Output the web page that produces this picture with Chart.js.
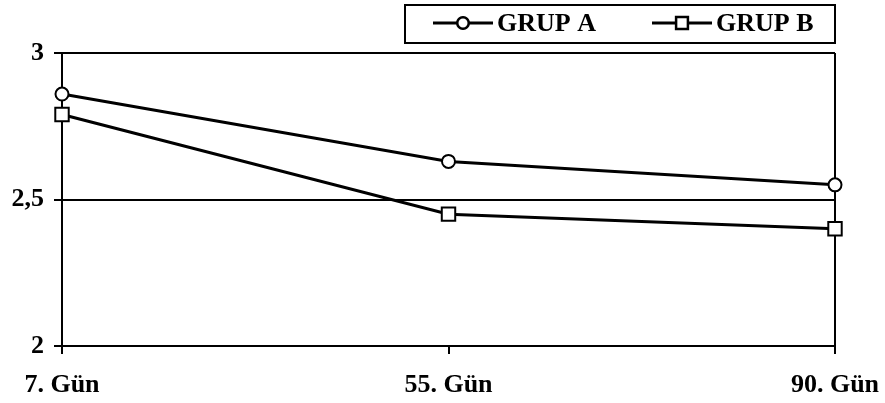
<!DOCTYPE html>
<html>
<head>
<meta charset="utf-8">
<script src="https://cdn.jsdelivr.net/npm/chart.js@4"></script>
<style>
  body { margin: 0; background: #fff; }
  #wrap { width: 885px; height: 403px; }
</style>
</head>
<body>
<div id="wrap"><canvas id="chart"></canvas></div>
<script>
const days = ['7. Gün', '55. Gün', '90. Gün'];
const grupA = [2.86, 2.63, 2.55];
const grupB = [2.79, 2.45, 2.40];
const yTicks = [2, 2.5, 3];

const FONT = '"Liberation Serif", "Times New Roman", serif';

// legend box drawn by hand (line + marker + bold label, framed)
const boxLegend = {
  id: 'boxLegend',
  afterDraw(chart) {
    const ctx = chart.ctx;
    ctx.save();
    ctx.strokeStyle = '#000';
    ctx.lineWidth = 2;
    ctx.strokeRect(405, 5, 430, 38);
    const items = [
      { x: 433, ds: chart.data.datasets[0], r: 5.5 },
      { x: 652, ds: chart.data.datasets[1], r: 8 }
    ];
    items.forEach(it => {
      const y = 23;
      ctx.lineWidth = 3;
      ctx.beginPath();
      ctx.moveTo(it.x, y);
      ctx.lineTo(it.x + 60, y);
      ctx.stroke();
      Chart.helpers.drawPoint(ctx, {
        pointStyle: it.ds.pointStyle,
        radius: it.r,
        borderWidth: 2
      }, it.x + 30, y);
      ctx.fillStyle = '#fff';
      ctx.fill();
      ctx.lineWidth = 2;
      ctx.stroke();
      ctx.fillStyle = '#000';
      ctx.font = 'bold 26px ' + FONT;
      ctx.textBaseline = 'middle';
      ctx.fillText(it.ds.label, it.x + 64, y + 1);
    });
    ctx.restore();
  }
};

new Chart(document.getElementById('chart'), {
  type: 'line',
  data: {
    labels: days,
    datasets: [
      {
        label: 'GRUP A',
        data: grupA,
        borderColor: '#000',
        borderWidth: 3,
        pointStyle: 'circle',
        pointRadius: 6.5,
        pointBorderWidth: 2,
        pointBackgroundColor: '#fff',
        pointBorderColor: '#000'
      },
      {
        label: 'GRUP B',
        data: grupB,
        borderColor: '#000',
        borderWidth: 3,
        pointStyle: 'rect',
        pointRadius: 9.5,
        pointBorderWidth: 2,
        pointBackgroundColor: '#fff',
        pointBorderColor: '#000'
      }
    ]
  },
  options: {
    responsive: true,
    maintainAspectRatio: false,
    animation: false,
    layout: { padding: { top: 53, right: 50, left: 0, bottom: 0 } },
    plugins: { legend: { display: false }, tooltip: { enabled: false } },
    scales: {
      x: {
        offset: false,
        afterFit: s => { s.height = 57; s.paddingLeft = 0; s.paddingRight = 0; },
        border: { color: '#000', width: 2 },
        grid: {
          color: c => c.index === 2 ? '#000' : 'rgba(0,0,0,0)',
          tickColor: '#000',
          lineWidth: 2,
          tickLength: 8
        },
        ticks: {
          color: '#000',
          padding: 16,
          maxRotation: 0,
          font: { family: FONT, size: 26, weight: 'bold' }
        }
      },
      y: {
        min: 2,
        max: 3,
        afterFit: s => { s.width = 62; },
        afterBuildTicks: s => { s.ticks = yTicks.map(v => ({ value: v })); },
        border: { color: '#000', width: 2 },
        grid: { color: '#000', lineWidth: 2, tickLength: 8 },
        ticks: {
          color: '#000',
          padding: 10,
          font: { family: FONT, size: 26, weight: 'bold' },
          callback: v => String(v).replace('.', ',')
        }
      }
    }
  },
  plugins: [boxLegend]
});
</script>
</body>
</html>
